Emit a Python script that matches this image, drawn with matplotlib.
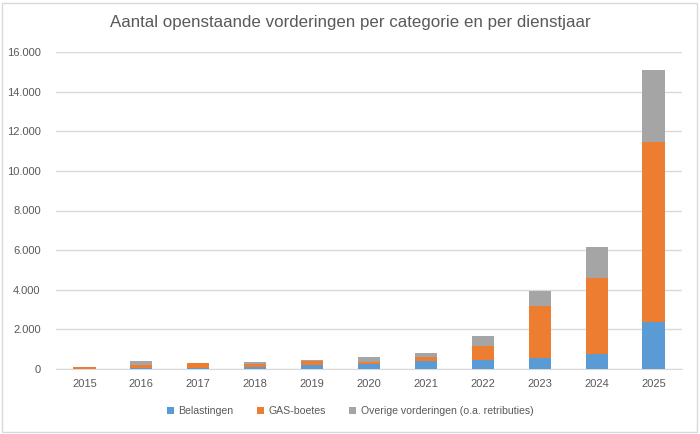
import matplotlib
matplotlib.use('Agg')
import numpy as np
from matplotlib import pyplot as plt
from matplotlib.patches import Rectangle

plt.rcParams['font.family'] = ['Liberation Sans', 'DejaVu Sans']

# gegevens per dienstjaar
jaren = ['2015', '2016', '2017', '2018', '2019', '2020', '2021', '2022', '2023', '2024', '2025']
belastingen = [0, 50, 60, 100, 200, 250, 400, 470, 570, 770, 2380]
gas_boetes = [100, 150, 220, 150, 200, 100, 200, 690, 2610, 3830, 9080]
overige = [0, 200, 40, 100, 60, 250, 210, 510, 760, 1560, 3640]

blauw = '#5B9BD5'
oranje = '#ED7D31'
grijs = '#A5A5A5'
tekst = '#595959'

fig = plt.figure(figsize=(7, 4.34), dpi=100)
ax = fig.add_axes([56 / 700, 1 - 369 / 434, 626 / 700, 317 / 434])

x = np.arange(len(jaren))
b = np.array(belastingen)
g = np.array(gas_boetes)
o = np.array(overige)
w = 0.39
ax.bar(x, b, w, color=blauw, label='Belastingen', zorder=3)
ax.bar(x, g, w, bottom=b, color=oranje, label='GAS-boetes', zorder=3)
ax.bar(x, o, w, bottom=b + g, color=grijs, label='Overige vorderingen (o.a. retributies)', zorder=3)

ax.set_xlim(-0.5, len(jaren) - 0.5)
ax.set_ylim(0, 16000)
ax.set_yticks(range(0, 16001, 2000))
ax.set_yticklabels([f'{v:,}'.replace(',', '.') for v in range(0, 16001, 2000)])
ax.set_xticks(x)
ax.set_xticklabels(jaren)
ax.grid(axis='y', color='#D9D9D9', linewidth=1, zorder=0)
for s in ['left', 'right', 'top']:
    ax.spines[s].set_visible(False)
ax.spines['bottom'].set_color('#D9D9D9')
ax.tick_params(axis='both', length=0, colors=tekst, labelsize=8)
ax.tick_params(axis='y', pad=11)
ax.tick_params(axis='x', pad=7)

fig.text(0.5, 1 - 22 / 434, 'Aantal openstaande vorderingen per categorie en per dienstjaar',
         ha='center', va='center', fontsize=12.2, color=tekst)

ax.legend(loc='center', bbox_to_anchor=(0.5, 1 - 411 / 434), bbox_transform=fig.transFigure,
          ncol=3, frameon=False, fontsize=7.6, labelcolor=tekst, handlelength=0.7,
          handleheight=0.7, handletextpad=0.4, columnspacing=2.2)

# rand om de grafiek
fig.patches.append(Rectangle((2 / 700, 2 / 434), 695 / 700, 429 / 434, transform=fig.transFigure,
                             fill=False, edgecolor='#D9D9D9', linewidth=1))

fig.savefig('out.png', dpi=100)
